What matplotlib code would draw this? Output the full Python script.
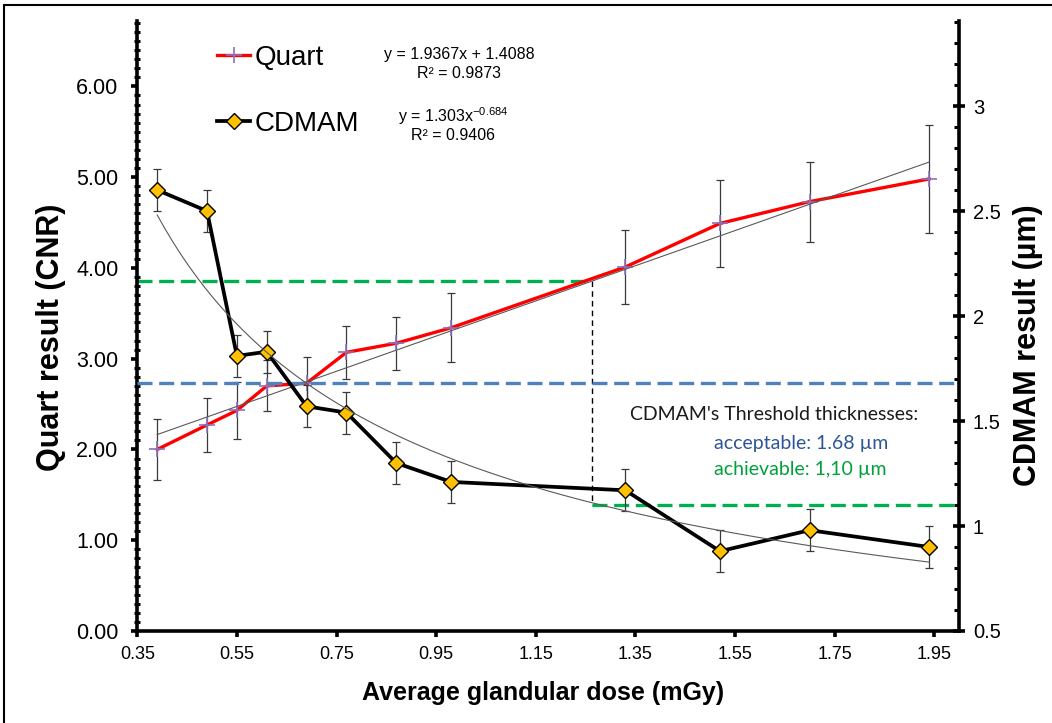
import matplotlib
matplotlib.use('Agg')
import matplotlib.pyplot as plt
from matplotlib.ticker import MultipleLocator, FormatStrFormatter, FixedLocator
from matplotlib.lines import Line2D
import matplotlib.patches as patches
import numpy as np

# ---------------- data ----------------
dose = [0.39, 0.49, 0.55, 0.61, 0.69, 0.77, 0.87, 0.98, 1.33, 1.52, 1.70, 1.94]
quart = [2.00, 2.27, 2.43, 2.70, 2.73, 3.07, 3.17, 3.34, 4.01, 4.49, 4.73, 4.98]
quart_err = [0.34, 0.30, 0.31, 0.28, 0.29, 0.29, 0.29, 0.38, 0.41, 0.48, 0.44, 0.59]
cdmam = [2.60, 2.50, 1.81, 1.83, 1.57, 1.54, 1.30, 1.21, 1.17, 0.88, 0.98, 0.90]
cdmam_err = [0.10, 0.10, 0.10, 0.10, 0.10, 0.10, 0.10, 0.10, 0.10, 0.10, 0.10, 0.10]

lin_slope, lin_icpt = 1.9367, 1.4088      # Quart linear trendline
pow_a, pow_b = 1.303, -0.684              # CDMAM power trendline
acceptable = 1.68
achievable = 1.10
quart_at_threshold = 3.86
dose_threshold = 1.263

xticks = [0.35, 0.55, 0.75, 0.95, 1.15, 1.35, 1.55, 1.75, 1.95]
left_ticks = [0, 1, 2, 3, 4, 5, 6]
right_ticks = [0.5, 1, 1.5, 2, 2.5, 3]

# ---------------- figure ----------------
plt.rcParams['font.family'] = ['Liberation Sans', 'DejaVu Sans']
W, H = 1052, 723
fig = plt.figure(figsize=(W / 100, H / 100), dpi=100)


def fx(px):
    return px / W


def fy(py):
    return 1 - py / H


ax = fig.add_axes([fx(137.3), 92 / H, 821.7 / W, 610 / H])
ax.set_xlim(0.35, 2.0)
ax.set_ylim(0, 6.72)
ax2 = ax.twinx()
ax2.set_ylim(0.5, 3.405)

SW = 2.6
for a in (ax, ax2):
    a.spines['top'].set_visible(False)
    for s in ('left', 'right', 'bottom'):
        a.spines[s].set_linewidth(SW)
ax.spines['right'].set_visible(False)
ax2.spines['left'].set_visible(False)
ax2.spines['bottom'].set_visible(False)

# ticks
ax.xaxis.set_major_locator(FixedLocator(xticks))
ax.xaxis.set_major_formatter(FormatStrFormatter('%.2f'))
ax.yaxis.set_major_locator(FixedLocator(left_ticks))
ax.yaxis.set_major_formatter(FormatStrFormatter('%.2f'))
ax.yaxis.set_minor_locator(MultipleLocator(0.1))
ax.tick_params(axis='x', which='major', direction='out', length=4.5, width=2.6,
               labelsize=13, pad=6)
ax.tick_params(axis='x', which='minor', length=0)
ax.tick_params(axis='y', which='major', direction='out', length=4.5, width=2.6,
               labelsize=15.5, pad=9)
ax.tick_params(axis='y', which='minor', direction='inout', length=4.5, width=2.2)

ax2.yaxis.set_major_locator(FixedLocator(right_ticks))
ax2.yaxis.set_major_formatter(FormatStrFormatter('%g'))
ax2.yaxis.set_minor_locator(MultipleLocator(0.1))
ax2.tick_params(axis='y', which='major', direction='inout', length=8, width=2.6,
                labelsize=14.5, pad=6)
ax2.tick_params(axis='y', which='minor', direction='in', length=3.5, width=2.2)

# ---------------- threshold lines ----------------
green = '#00B050'
blue = '#4F81BD'
dash = (4.5, 2.0)
ax.plot([0.35, dose_threshold], [quart_at_threshold, quart_at_threshold],
        color=green, lw=2.4, dashes=dash, zorder=2)
ax2.plot([0.35, 2.0], [acceptable, acceptable], color=blue, lw=2.4, dashes=dash, zorder=1)
ax2.plot([dose_threshold, 2.0], [achievable, achievable], color=green, lw=2.4,
         dashes=dash, zorder=1)
# vertical connector: from Quart threshold (left axis) down to achievable level (right axis)
l0, l1 = ax.get_ylim()
r0, r1 = ax2.get_ylim()
ach_left = l0 + (achievable - r0) / (r1 - r0) * (l1 - l0)
ax.plot([dose_threshold, dose_threshold], [quart_at_threshold, ach_left],
        color='black', lw=1.0, dashes=(4, 3), zorder=2)

# ---------------- Quart (left axis) ----------------
ax.errorbar(dose, quart, yerr=quart_err, fmt='none', ecolor='#3a3a3a', elinewidth=0.9,
            capsize=3, capthick=0.9, zorder=3)
ax.plot(dose, quart, color='#FF0000', lw=2.4, marker='+', ms=11, mec='#8B72BE',
        mew=1.2, zorder=4)
xs = np.linspace(min(dose), max(dose), 200)
ax.plot(xs, lin_slope * xs + lin_icpt, color='#5a5a5a', lw=0.8, zorder=5)

# ---------------- CDMAM (right axis) ----------------
ax2.errorbar(dose, cdmam, yerr=cdmam_err, fmt='none', ecolor='#3a3a3a', elinewidth=0.9,
             capsize=3, capthick=0.9, zorder=3)
ax2.plot(dose, cdmam, color='black', lw=2.7, marker='D', ms=8, mfc='#FFC000',
         mec='black', mew=1.0, zorder=4)
ax2.plot(xs, pow_a * xs ** pow_b, color='#5a5a5a', lw=0.8, zorder=5)

# ---------------- labels ----------------
ax.set_xlabel('Average glandular dose (mGy)', fontsize=18, fontweight='bold', va='center')
ax.xaxis.set_label_coords((543.5 - 137.3) / 821.7, (631 - 693) / 610)
ax.set_ylabel('Quart result (CNR)', fontsize=22, fontweight='bold', va='center', ha='center')
ax.yaxis.set_label_coords((51 - 137.3) / 821.7, (631 - 337.5) / 610)
ax2.set_ylabel('CDMAM result (µm)', fontsize=22, fontweight='bold', va='center',
               ha='center', rotation=90)
ax2.yaxis.set_label_coords((1028 - 137.3) / 821.7, (631 - 345) / 610)

# ---------------- legend ----------------
handles = [Line2D([], [], color='#FF0000', lw=2.4, marker='+', ms=11, mec='#8B72BE', mew=1.2),
           Line2D([], [], color='black', lw=2.7, marker='D', ms=8, mfc='#FFC000',
                  mec='black', mew=1.0)]
fig.legend(handles, ['Quart', 'CDMAM'], loc='center left',
           bbox_to_anchor=(fx(217), fy(91)), frameon=False, fontsize=20,
           handlelength=1.2, handletextpad=0.15, labelspacing=1.45,
           borderpad=0, borderaxespad=0)

# trendline equations
fig.text(fx(459), fy(54), 'y = 1.9367x + 1.4088', ha='center', va='center', fontsize=11.5)
fig.text(fx(459), fy(74), 'R² = 0.9873', ha='center', va='center', fontsize=11.5)
fig.text(fx(453), fy(116), r'y = 1.303x$^{\mathregular{-0.684}}$', ha='center', va='center',
         fontsize=11.5)
fig.text(fx(453), fy(136), 'R² = 0.9406', ha='center', va='center', fontsize=11.5)

# threshold annotation
afont = ['Lato', 'DejaVu Sans']
fig.text(fx(630), fy(415), "CDMAM's Threshold thicknesses:", ha='left', va='center',
         fontsize=14, family=afont, color='#1a1a1a')
fig.text(fx(714), fy(443), 'acceptable: 1.68 µm', ha='left', va='center',
         fontsize=14, family=afont, color='#2E5597')
fig.text(fx(714), fy(470), 'achievable: 1,10 µm', ha='left', va='center',
         fontsize=14, family=afont, color='#00A03C')

# outer frame of the picture (left and top edges visible)
fig.patches.append(patches.Rectangle((fx(4), -0.5), 1.5, fy(5) + 0.5, transform=fig.transFigure,
                                     fill=False, edgecolor='black', lw=1.5))

fig.savefig('out.png', dpi=100)
